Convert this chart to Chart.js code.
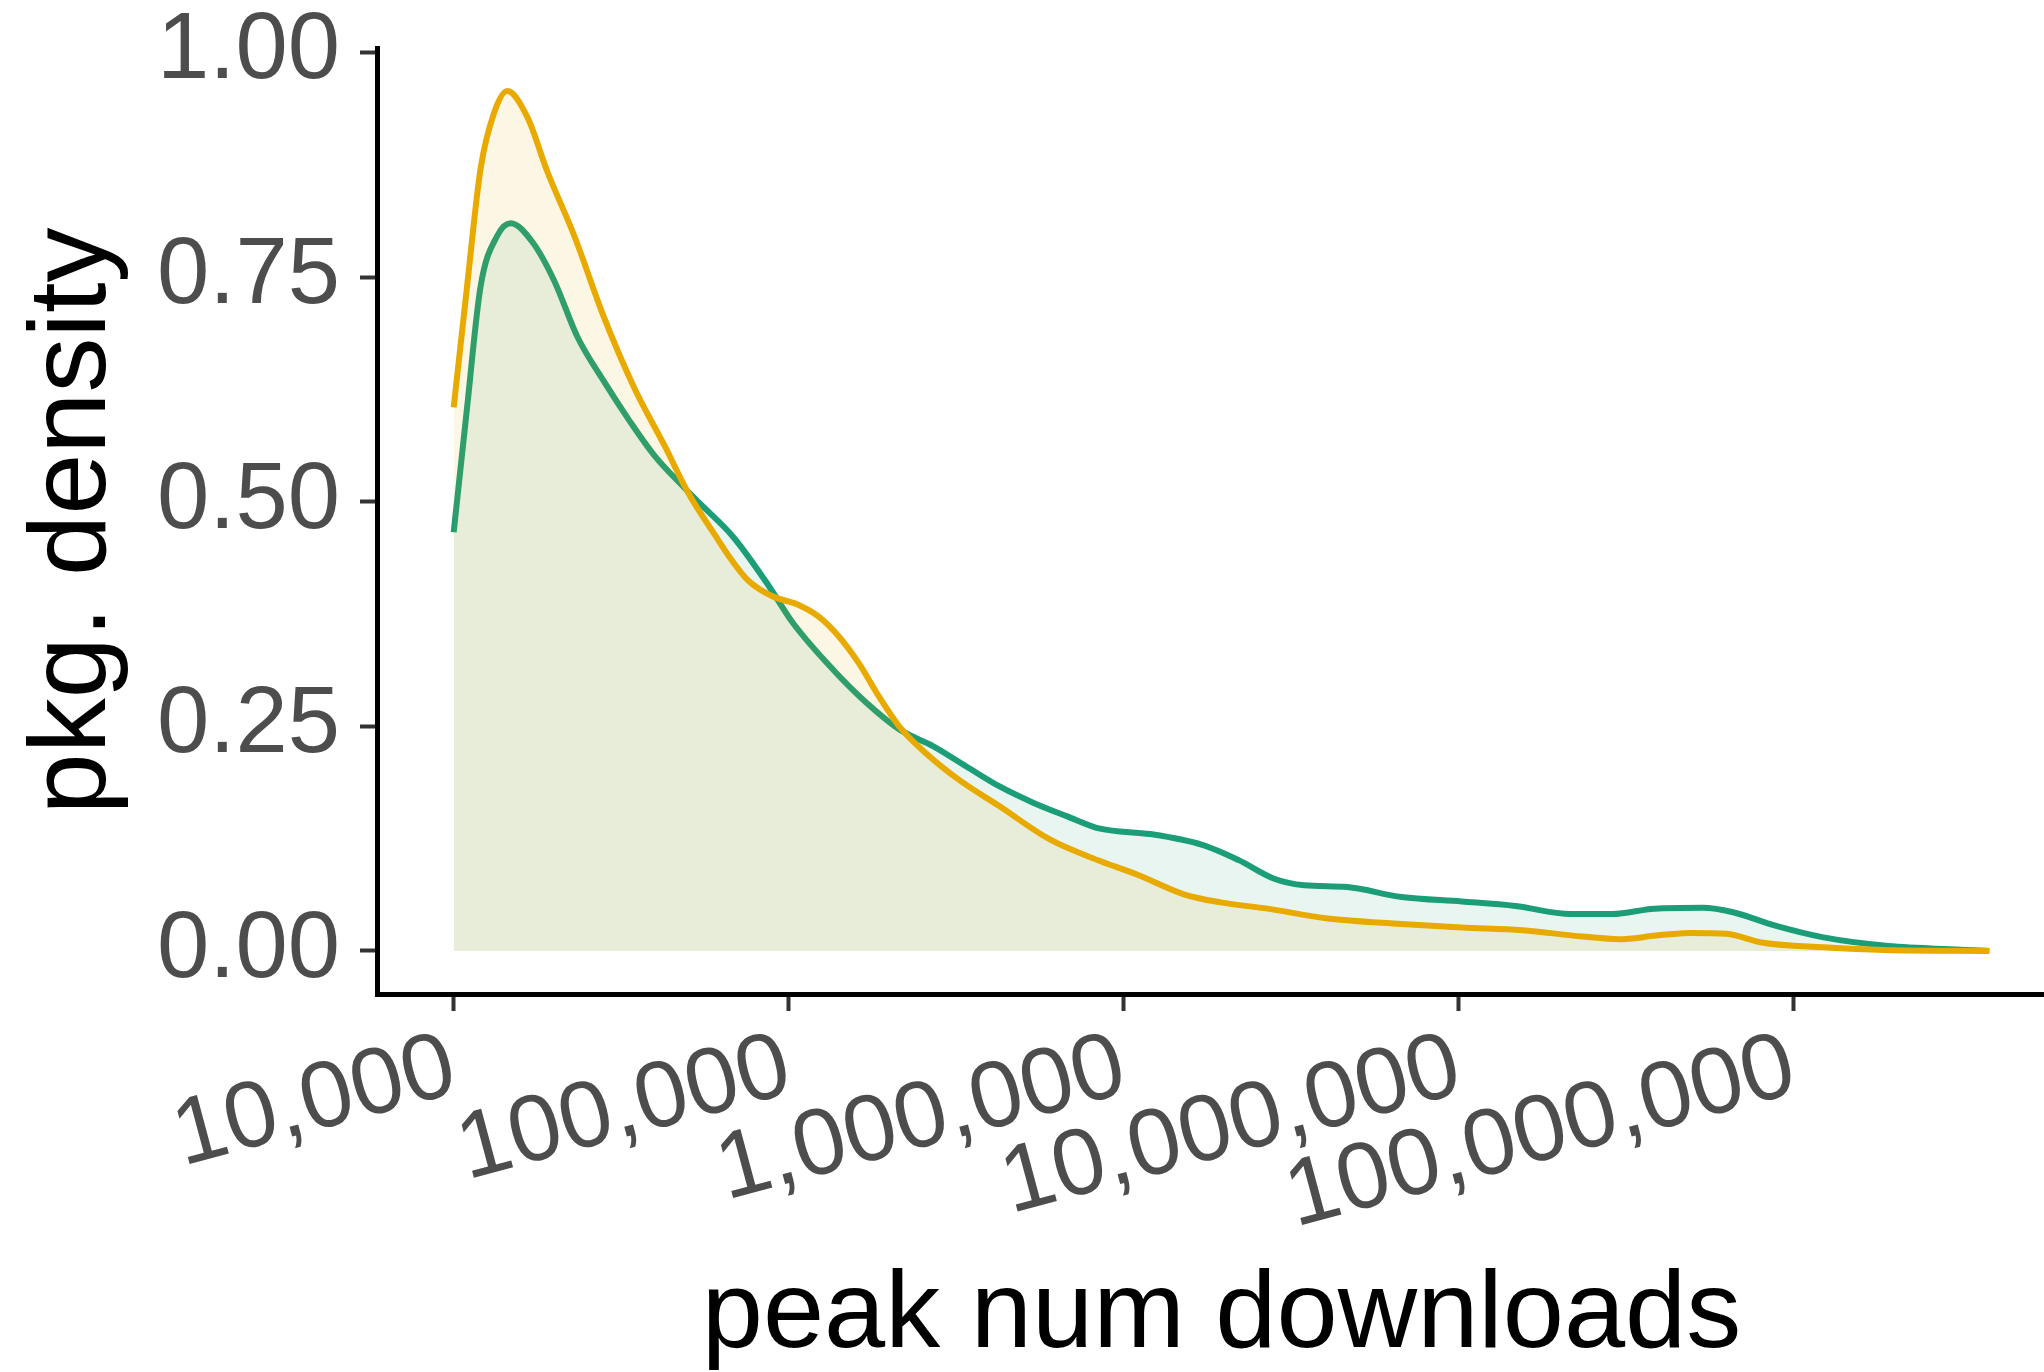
<!DOCTYPE html>
<html>
<head>
<meta charset="utf-8">
<script src="https://cdn.jsdelivr.net/npm/chart.js@4.4.1/dist/chart.umd.min.js"></script>
<style>
  html, body { margin: 0; padding: 0; background: #fff; overflow: hidden; }
  #wrap { width: 2066px; height: 1372px; }
</style>
</head>
<body>
<div id="wrap"><canvas id="densityChart" width="2066" height="1372"></canvas></div>
<script>
// log10(peak downloads) positions and density
const yellowLog = [4.00, 4.04, 4.08, 4.12, 4.16, 4.22, 4.28, 4.36, 4.45, 4.54, 4.63, 4.70, 4.78, 4.83, 4.88, 4.95, 5.03, 5.09, 5.15, 5.21, 5.27, 5.33, 5.41, 5.51, 5.63, 5.78, 5.93, 6.04, 6.18, 6.29, 6.43, 6.61, 6.83, 7.01, 7.19, 7.37, 7.48, 7.59, 7.69, 7.80, 7.91, 8.09, 8.27, 8.585];
const yellowDensity = [0.605, 0.74, 0.87, 0.932, 0.957, 0.928, 0.867, 0.796, 0.704, 0.626, 0.562, 0.51, 0.463, 0.435, 0.412, 0.395, 0.385, 0.372, 0.35, 0.32, 0.283, 0.25, 0.22, 0.19, 0.161, 0.124, 0.1, 0.085, 0.063, 0.054, 0.047, 0.036, 0.030, 0.026, 0.023, 0.016, 0.013, 0.017, 0.02, 0.019, 0.009, 0.004, 0.001, 0.0];

const tealLog = [4.00, 4.04, 4.08, 4.13, 4.17, 4.235, 4.30, 4.37, 4.45, 4.525, 4.60, 4.69, 4.735, 4.834, 4.934, 5.013, 5.133, 5.233, 5.333, 5.431, 5.532, 5.63, 5.73, 5.83, 5.93, 6.08, 6.235, 6.344, 6.452, 6.54, 6.668, 6.83, 7.01, 7.17, 7.335, 7.46, 7.585, 7.73, 7.82, 7.946, 8.09, 8.27, 8.45, 8.585];
const tealDensity = [0.466, 0.605, 0.739, 0.796, 0.81, 0.789, 0.746, 0.683, 0.633, 0.59, 0.551, 0.515, 0.498, 0.461, 0.41, 0.365, 0.313, 0.276, 0.246, 0.228, 0.205, 0.183, 0.165, 0.15, 0.136, 0.13, 0.118, 0.101, 0.08, 0.073, 0.071, 0.06, 0.055, 0.05, 0.041, 0.041, 0.047, 0.048, 0.043, 0.028, 0.015, 0.006, 0.002, 0.0];

const xTicks = [1e4, 1e5, 1e6, 1e7, 1e8];
const yTicks = [0, 0.25, 0.5, 0.75, 1.0];

const tickFont = { family: "'Liberation Sans', Arial, sans-serif", size: 94, lineHeight: 1.0 };
const titleFont = { family: "'Liberation Sans', Arial, sans-serif", size: 110, lineHeight: 1.0 };

function toPoints(logs, vals) {
  return logs.map((lx, i) => ({ x: Math.pow(10, lx), y: vals[i] }));
}

new Chart(document.getElementById("densityChart"), {
  type: "line",
  data: {
    datasets: [{
      label: "yellow",
      data: toPoints(yellowLog, yellowDensity),
      borderColor: "#E9AA00",
      backgroundColor: "rgba(230,171,2,0.1)",
      borderWidth: 6,
      fill: "origin",
      pointRadius: 0,
      cubicInterpolationMode: "monotone"
    }, {
      label: "teal",
      data: toPoints(tealLog, tealDensity),
      borderColor: "#1B9E77",
      backgroundColor: "rgba(27,158,119,0.1)",
      borderWidth: 6,
      fill: "origin",
      pointRadius: 0,
      cubicInterpolationMode: "monotone"
    }]
  },
  options: {
    responsive: false,
    devicePixelRatio: 1,
    animation: false,
    layout: { padding: { top: 48, right: 0, bottom: 0, left: 0 } },
    plugins: { legend: { display: false }, tooltip: { enabled: false } },
    scales: {
      x: {
        type: "logarithmic",
        min: Math.pow(10, 3.771),
        max: Math.pow(10, 8.814),
        afterBuildTicks: s => { s.ticks = xTicks.map(v => ({ value: v })); },
        afterFit: s => { s.height = 378; },
        ticks: {
          autoSkip: false,
          minRotation: 15,
          maxRotation: 15,
          color: "#4d4d4d",
          font: tickFont,
          padding: 10,
          callback: v => Number(v).toLocaleString("en-US")
        },
        grid: { drawOnChartArea: false, tickLength: 17, tickColor: "#333333", tickWidth: 4 },
        border: { display: true, color: "#000000", width: 5 },
        title: { display: true, text: "peak num downloads", color: "#000000", font: titleFont, padding: 0 }
      },
      y: {
        min: -0.048,
        max: 1.005,
        afterBuildTicks: s => { s.ticks = yTicks.map(v => ({ value: v })); },
        afterFit: s => { s.width = 377; s.paddingTop = 20; s.paddingBottom = 20; },
        ticks: {
          color: "#4d4d4d",
          font: tickFont,
          padding: 20,
          callback: v => Number(v).toFixed(2)
        },
        grid: { drawOnChartArea: false, tickLength: 17, tickColor: "#333333", tickWidth: 4 },
        border: { display: true, color: "#000000", width: 5 },
        title: { display: true, text: "pkg. density", color: "#000000", font: { family: "'Liberation Sans', Arial, sans-serif", size: 110, lineHeight: 1.2 }, padding: { top: 9, bottom: 0 } }
      }
    }
  }
});
</script>
</body>
</html>
